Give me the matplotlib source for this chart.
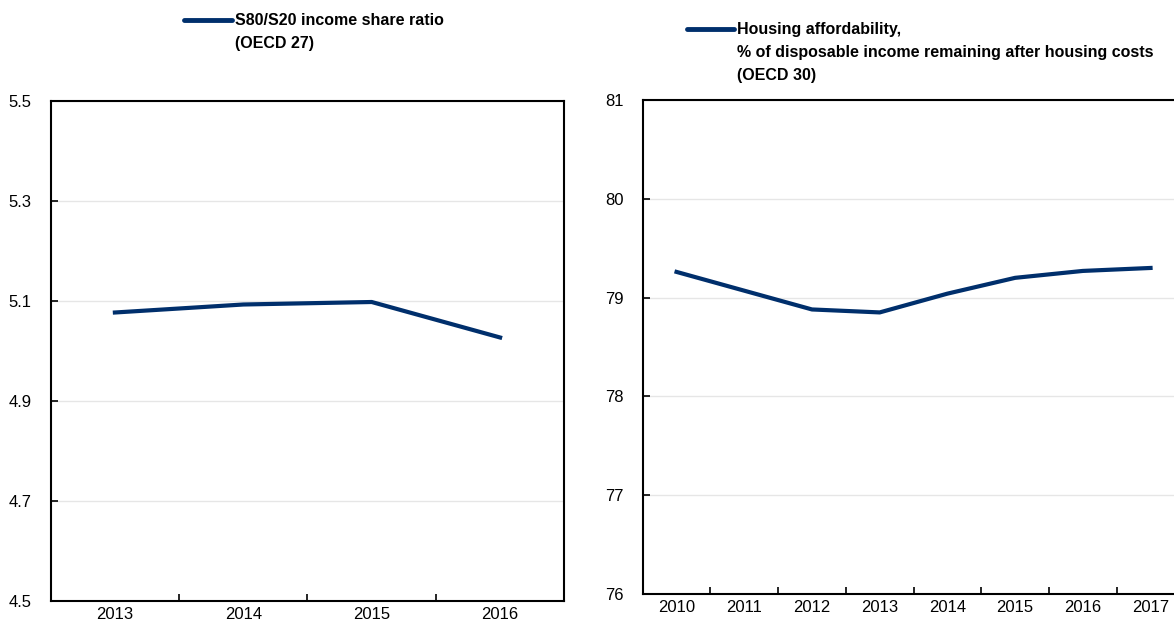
import matplotlib.pyplot as plt
from matplotlib.lines import Line2D

# Data
years_left = ["2013", "2014", "2015", "2016"]
s80_s20 = [5.077, 5.093, 5.098, 5.027]

years_right = ["2010", "2011", "2012", "2013", "2014", "2015", "2016", "2017"]
housing = [79.26, 79.07, 78.88, 78.85, 79.04, 79.20, 79.27, 79.30]

label_left = "S80/S20 income share ratio\n(OECD 27)"
label_right = ("Housing affordability,\n"
               "% of disposable income remaining after housing costs\n"
               "(OECD 30)")

navy = "#002F6C"
W, H = 1174, 624

plt.rcParams['font.family'] = ['Liberation Sans Narrow', 'Liberation Sans', 'DejaVu Sans']

fig = plt.figure(figsize=(W / 100, H / 100), dpi=100)


def px_axes(x0, x1, ytop, ybot):
    return fig.add_axes([x0 / W, 1 - ybot / H, (x1 - x0) / W, (ybot - ytop) / H])


def style(ax, n, ticks, lim):
    ax.set_xlim(-0.5, n - 0.5)
    ax.set_ylim(*lim)
    ax.set_yticks(ticks)
    ax.set_xticks([i + 0.5 for i in range(n - 1)], minor=False)
    ax.set_xticklabels([])
    ax.tick_params(axis='x', which='major', direction='in', length=5, width=1.2, color='black')
    ax.set_xticks(range(n), minor=True)
    ax.tick_params(axis='x', which='minor', length=0, labelsize=12, pad=4)
    ax.tick_params(axis='y', direction='in', length=5, width=1.2, labelsize=12, pad=14)
    ax.grid(axis='y', color='#e6e6e6', linewidth=1)
    ax.set_axisbelow(True)
    for s in ax.spines.values():
        s.set_linewidth(1.5)
        s.set_color('black')


# Left panel
ax1 = px_axes(50.7, 564.3, 101, 601)
ax1.plot(range(len(years_left)), s80_s20, color=navy, linewidth=3)
style(ax1, len(years_left), [4.5, 4.7, 4.9, 5.1, 5.3, 5.5], (4.5, 5.5))
ax1.set_xticklabels(years_left, minor=True)
ax1.set_yticklabels(["4.5", "4.7", "4.9", "5.1", "5.3", "5.5"])

# Right panel (extends past the right edge of the figure)
ax2 = px_axes(642.7, 1184.4, 100, 594)
ax2.plot(range(len(years_right)), housing, color=navy, linewidth=3)
style(ax2, len(years_right), [76, 77, 78, 79, 80, 81], (76, 81))
ax2.set_xticklabels(years_right, minor=True)

# Legends drawn in figure pixel space
for (x0, x1, y, label) in [(184, 232, 20, label_left), (687, 734, 29, label_right)]:
    fig.add_artist(Line2D([x0 / W, x1 / W], [1 - y / H, 1 - y / H],
                          color=navy, linewidth=3.5, solid_capstyle='round'))
    fig.text((x1 + 3) / W, 1 - (y - 7) / H, label, ha='left', va='top',
             fontsize=11.5, fontweight='bold', linespacing=1.65)

fig.savefig("out.png", dpi=100)
